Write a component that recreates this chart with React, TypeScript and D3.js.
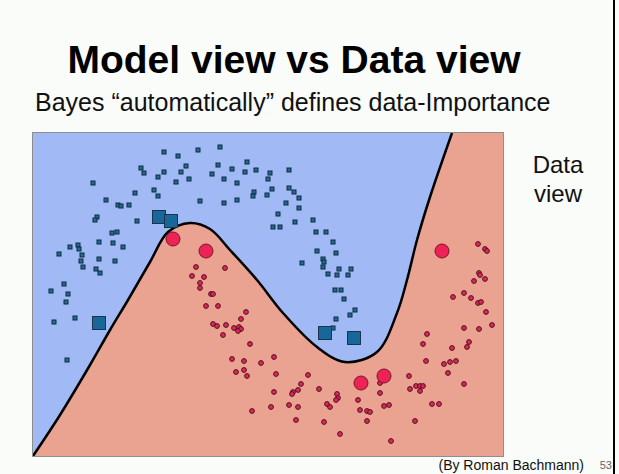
import React from "react";
import * as d3 from "d3";

// data units: x 0..470, y 0..323 (plot extent)
const boundary: [number, number][] = [
  [0, 0], [27, 41], [57, 91], [77, 126], [95, 156], [117, 194], [135, 224], [157, 233],
  [177, 227], [197, 206], [224, 176], [250, 143], [284, 109], [312, 94], [344, 104],
  [364, 143], [374, 176], [384, 216], [397, 259], [419, 323],
];

const blueSmall: [number, number][] = [
  [131, 304], [187, 309], [165, 306], [145, 300], [108, 288], [111, 283], [131, 284], [153, 290],
  [148, 284], [125, 279], [143, 274], [156, 277], [185, 291], [179, 282], [214, 294], [199, 287],
  [212, 284], [223, 286], [191, 277], [204, 273], [235, 277], [60, 273], [121, 266], [125, 260],
  [102, 263], [221, 264], [220, 260], [234, 261], [73, 256], [167, 255], [191, 253], [204, 256],
  [85, 251], [88, 250], [96, 251], [64, 239], [62, 236], [104, 235], [79, 223], [84, 224],
  [66, 214], [80, 213], [90, 209], [37, 209], [45, 211], [46, 207], [26, 202], [49, 201],
  [48, 195], [66, 197], [82, 195], [50, 189], [63, 187], [67, 183], [31, 172], [18, 165],
  [35, 162], [33, 154], [21, 134], [42, 138], [34, 96], [237, 283], [256, 286], [239, 267],
  [256, 268], [261, 264], [266, 258], [253, 253], [266, 248], [245, 242], [262, 234], [280, 236],
  [240, 229], [247, 229], [283, 224], [293, 224], [300, 214], [284, 205], [303, 203], [290, 197],
  [291, 194], [269, 193], [290, 189], [306, 187], [318, 187], [295, 182], [304, 181], [315, 181],
  [302, 166], [308, 166], [311, 157], [322, 146], [317, 141], [303, 137], [300, 128],
];

const blueBig: [number, number][] = [[126, 239], [138, 235], [66, 133], [292, 123], [321, 118]];

const redSmall: [number, number][] = [
  [163, 189], [192, 188], [159, 180], [171, 179], [167, 173], [167, 168], [178, 162], [180, 162],
  [173, 150], [185, 150], [213, 144], [208, 137], [180, 132], [184, 130], [193, 131], [201, 128],
  [206, 129], [208, 127], [205, 125], [190, 121], [217, 112], [199, 97], [211, 95], [228, 93],
  [211, 86], [203, 84], [214, 80], [219, 45], [238, 49], [445, 212], [452, 207], [454, 205],
  [446, 183], [447, 181], [452, 177], [441, 175], [431, 163], [420, 159], [438, 158], [445, 153],
  [448, 154], [453, 144], [431, 128], [446, 127], [459, 131], [394, 122], [436, 114], [434, 109],
  [390, 112], [419, 108], [393, 95], [411, 92], [417, 94], [423, 95], [415, 83], [431, 72],
  [376, 80], [377, 67], [383, 70], [387, 70], [390, 70], [387, 65], [399, 52], [406, 52],
  [382, 35], [358, 15], [347, 73], [347, 63], [351, 50], [356, 51], [325, 56], [327, 46],
  [334, 45], [337, 44], [334, 35], [307, 22], [291, 34], [304, 62], [305, 58], [303, 56],
  [294, 52], [297, 49], [286, 67], [275, 81], [268, 72], [265, 66], [260, 64], [259, 62],
  [241, 64], [243, 82], [241, 99], [256, 51], [265, 49], [263, 36],
];

const redBig: [number, number][] = [[140, 217], [173, 205], [409, 205], [328, 73], [351, 80]];

const title = "Model view vs Data view";
const subtitle = "Bayes \u201cautomatically\u201d defines data-Importance";
const sideLabel = ["Data", "view"];
const credit = "(By Roman Bachmann)";
const pageNo = "53";

const W = 619;
const H = 474;
const plot = { left: 33, top: 133, right: 503, bottom: 456 };

export default function App() {
  const x = d3.scaleLinear().domain([0, 470]).range([plot.left, plot.right]);
  const y = d3.scaleLinear().domain([0, 323]).range([plot.bottom, plot.top]);
  const line = d3
    .line<[number, number]>()
    .x((d) => x(d[0]))
    .y((d) => y(d[1]))
    .curve(d3.curveCatmullRom.alpha(0.5));
  const curvePath = line(boundary) || "";
  const last = boundary[boundary.length - 1];
  const fillPath =
    curvePath +
    `L${x(470)},${y(last[1])}L${x(470)},${y(0)}Z`;

  const font = "'Liberation Sans', Arial, Helvetica, sans-serif";
  const sq = 4;
  const bigSq = 13;

  return (
    <div style={{ position: "absolute", left: 0, top: 0 }}>
      <svg width={W} height={H} style={{ display: "block", background: "#f9fcf9" }}>
        <rect x={0} y={0} width={W} height={H} fill="#f9fcf9" />
        <text x={294} y={73} textAnchor="middle" fontFamily={font} fontWeight="bold" fontSize={39} fill="#000">
          {title}
        </text>
        <text x={35} y={111} fontFamily={font} fontSize={25} fill="#111">
          {subtitle}
        </text>
        {sideLabel.map((t, i) => (
          <text key={t} x={558} y={173 + i * 29} textAnchor="middle" fontFamily={font} fontSize={24} fill="#111">
            {t}
          </text>
        ))}
        <defs>
          <clipPath id="plotclip">
            <rect x={plot.left} y={plot.top} width={plot.right - plot.left} height={plot.bottom - plot.top} />
          </clipPath>
        </defs>
        <g clipPath="url(#plotclip)">
          <rect x={plot.left} y={plot.top} width={plot.right - plot.left} height={plot.bottom - plot.top} fill="#a1b9f5" />
          <path d={fillPath} fill="#eaa291" />
          <path d={curvePath} fill="none" stroke="#000" strokeWidth={2.5} />
          {blueSmall.map((d, i) => (
            <rect key={"b" + i} x={x(d[0]) - sq / 2} y={y(d[1]) - sq / 2} width={sq} height={sq}
              fill="#1a6e9c" stroke="#14283a" strokeWidth={1} />
          ))}
          {redSmall.map((d, i) => (
            <circle key={"r" + i} cx={x(d[0])} cy={y(d[1])} r={2.4} fill="#e42555" stroke="#4a1222" strokeWidth={1} />
          ))}
          {blueBig.map((d, i) => (
            <rect key={"B" + i} x={x(d[0]) - bigSq / 2} y={y(d[1]) - bigSq / 2} width={bigSq} height={bigSq}
              fill="#17679a" stroke="#1d3448" strokeWidth={1} />
          ))}
          {redBig.map((d, i) => (
            <circle key={"R" + i} cx={x(d[0])} cy={y(d[1])} r={7} fill="#ec2354" stroke="#7a1630" strokeWidth={1} />
          ))}
        </g>
        <rect x={plot.left - 0.5} y={plot.top - 0.5} width={plot.right - plot.left + 1} height={plot.bottom - plot.top + 1}
          fill="none" stroke="#8e8e8e" strokeWidth={1} />
        <text x={584} y={470} textAnchor="end" fontFamily={font} fontSize={14} fill="#111">
          {credit}
        </text>
        <text x={612} y={469} textAnchor="end" fontFamily={font} fontSize={11} fill="#666">
          {pageNo}
        </text>
        <line x1={614} x2={614} y1={0} y2={H} stroke="#000" strokeWidth={2} />
      </svg>
    </div>
  );
}
